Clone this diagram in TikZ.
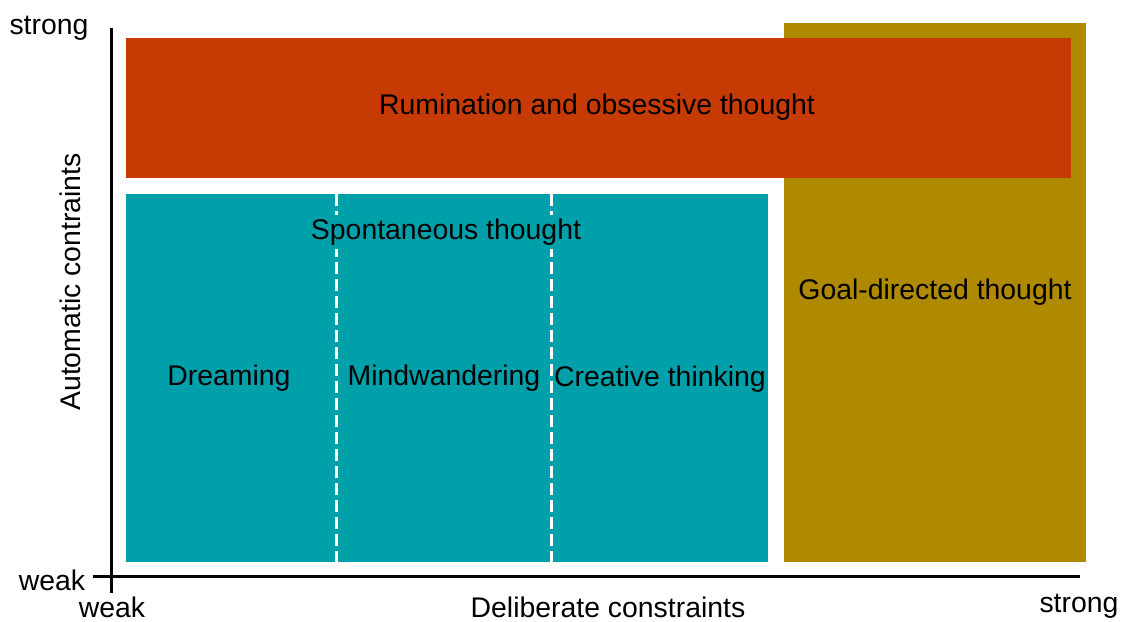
\documentclass[tikz,border=0pt]{standalone}
\usepackage{fontspec}
\setmainfont{Liberation Sans}
\begin{document}
\begin{tikzpicture}[x=1pt,y=-1pt,
  every node/.style={font=\fontsize{28.4}{34}\selectfont},
  block/.style={draw=none,inner sep=0pt,minimum width=#1},
  axis/.style={line width=3pt},
  divider/.style={white,line width=3pt,dash pattern=on 12pt off 5pt},
  lbl/.style={inner sep=0pt,anchor=center}]
\definecolor{rumination}{RGB}{198,58,4}
\definecolor{spont}{RGB}{0,160,170}
\definecolor{goal}{RGB}{175,137,0}
\useasboundingbox (0,0) rectangle (1129,621);

% regions of the constraint space
\node[block=302pt,minimum height=539pt,fill=goal] (goal) at (935,292.5) {};
\node[block=945pt,minimum height=140pt,fill=rumination] (rum) at (598.5,108) {};
\node[block=642pt,minimum height=368pt,fill=spont] (spon) at (447,378) {};

\node[lbl] at (597,107) {Rumination and obsessive thought};
\node[lbl] at (935,292) {Goal-directed thought};

% boundaries between the spontaneous modes
\coordinate (d1t) at (336,194); \coordinate (d1b) at (336,562);
\coordinate (d2t) at (551,194); \coordinate (d2b) at (551,562);
\draw[divider] (d1t) -- (d1b);
\draw[divider] (d2t) -- (d2b);

\node[fill=spont,inner sep=4pt] (spt) at (446,232) {Spontaneous thought};
\node[lbl] (dream) at (229,378) {Dreaming};
\node[lbl] (mind) at (444,378) {Mindwandering};
\node[lbl] (creat) at (660,379) {Creative thinking};

% axes
\coordinate (ytop) at (111,28); \coordinate (ybot) at (111,593);
\coordinate (xleft) at (93,576); \coordinate (xright) at (1080,576);
\draw[axis] (ytop) -- (ybot);
\draw[axis] (xleft) -- (xright);

\node[lbl] (ystrong) at (49,28) {strong};
\node[lbl] (yweak) at (52,580) {weak};
\node[lbl] (xweak) at (112,607) {weak};
\node[lbl] (xstrong) at (1079,606) {strong};
\node[lbl] (xlab) at (608,607) {Deliberate constraints};
\node[lbl,rotate=90] (ylab) at (70,282) {Automatic contraints};
\end{tikzpicture}
\end{document}
